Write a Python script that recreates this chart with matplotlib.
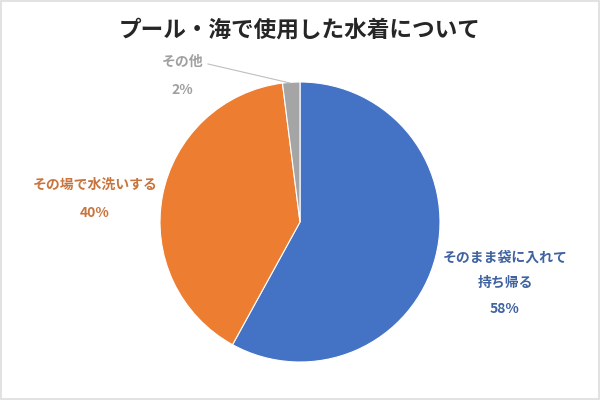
import matplotlib
matplotlib.use('Agg')
import matplotlib.pyplot as plt
import matplotlib.patches as mpatches

plt.rcParams['font.family'] = ['Noto Sans CJK JP', 'DejaVu Sans']

TITLE = 'プール・海で使用した水着について'
categories = ['そのまま袋に入れて\n持ち帰る', 'その場で水洗いする', 'その他']
shares = [58, 40, 2]
slice_colors = ['#4472C4', '#ED7D31', '#A5A5A5']
label_colors = ['#3F62A0', '#C9743D', '#A0A0A0']

H = 400


def px(x, y):
    # pixel coords (origin top-left) -> axes data coords
    return x, H - y


fig = plt.figure(figsize=(6, 4), dpi=100)
ax = fig.add_axes([0, 0, 1, 1])

ax.pie(shares, colors=slice_colors, startangle=90, counterclock=False,
       center=px(300, 222), radius=140, frame=True,
       wedgeprops=dict(edgecolor='white', linewidth=0.8))
ax.set_xlim(0, 600)
ax.set_ylim(0, 400)
ax.set_aspect('equal')
ax.axis('off')

ax.add_patch(mpatches.Rectangle((1, 1), 598, 398, fill=False,
                                edgecolor='#DDDDDD', linewidth=1.2))

ax.text(*px(300, 30), TITLE, ha='center', va='center', fontsize=16.3,
        fontweight='bold', color='#262626')

# label positions in pixels
label_pos = [(505, 270), (95, 185), (183, 62)]
pct_pos = [(505, 309), (95, 213), (182, 90)]
for name, pct, c, lp, pp in zip(categories, shares, label_colors, label_pos, pct_pos):
    ax.text(*px(*lp), name, ha='center', va='center', fontsize=10,
            fontweight='bold', color=c, linespacing=2.0)
    ax.text(*px(*pp), f'{pct}%', ha='center', va='center', fontsize=10,
            fontweight='bold', color=c)

# leader line for the small slice
ax.plot(*zip(px(208, 64), px(290, 83)), color='#BFBFBF', linewidth=0.8)

fig.savefig('out.png', dpi=100)
